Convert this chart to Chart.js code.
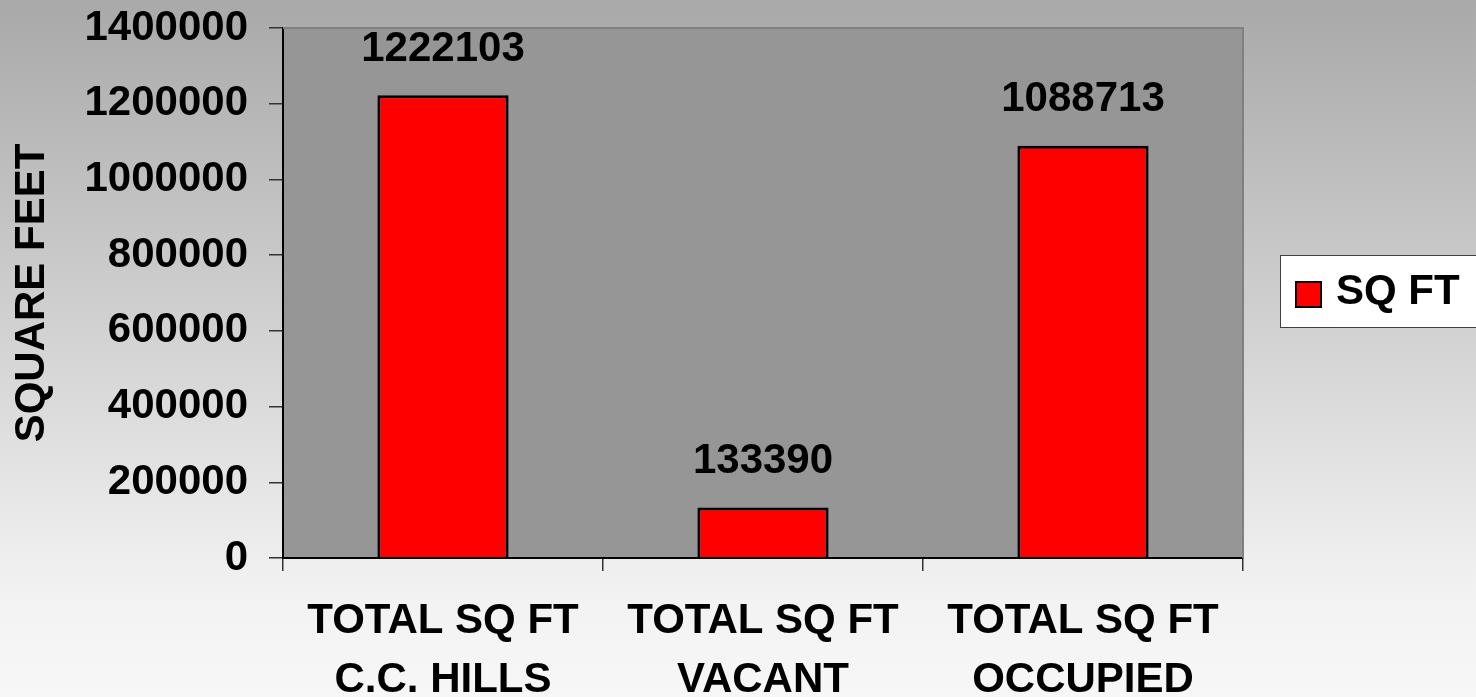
<!DOCTYPE html>
<html>
<head>
<meta charset="utf-8">
<script src="https://cdn.jsdelivr.net/npm/chart.js@4"></script>
<style>
  body { margin: 0; background: #ffffff; }
  canvas { display: block; }
</style>
</head>
<body>
<canvas id="myChart" width="1476" height="697"></canvas>
<script>
// chart data
const categories = [['TOTAL SQ FT', 'C.C. HILLS'], ['TOTAL SQ FT', 'VACANT'], ['TOTAL SQ FT', 'OCCUPIED']];
const sqFt = [1222103, 133390, 1088713];
const seriesName = 'SQ FT';
const yMax = 1400000;
const yStep = 200000;

const FONT = "'Liberation Sans', Arial, sans-serif";

// background gradient + grey plot area
const backdrop = {
  id: 'backdrop',
  beforeDraw(chart) {
    const {ctx, width, height, chartArea: a} = chart;
    ctx.save();
    const g = ctx.createLinearGradient(0, 0, 0, height);
    g.addColorStop(0, '#a9a9a9');
    g.addColorStop(0.85, '#f2f2f2');
    g.addColorStop(1, '#f7f7f7');
    ctx.fillStyle = g;
    ctx.fillRect(0, 0, width, height);
    ctx.fillStyle = '#969696';
    ctx.fillRect(a.left, a.top, a.right - a.left, a.bottom - a.top);
    ctx.restore();
  },
  afterDraw(chart) {
    const {ctx, chartArea: a} = chart;
    ctx.save();
    // top and right edge of plot area
    ctx.strokeStyle = '#808080';
    ctx.lineWidth = 2;
    ctx.beginPath();
    ctx.moveTo(a.left, a.top);
    ctx.lineTo(a.right, a.top);
    ctx.lineTo(a.right, a.bottom);
    ctx.stroke();

    // legend box
    ctx.fillStyle = '#ffffff';
    ctx.fillRect(1280, 255, 220, 72);
    ctx.strokeStyle = '#404040';
    ctx.lineWidth = 1;
    ctx.strokeRect(1280.5, 255.5, 220, 72);
    ctx.fillStyle = '#ff0000';
    ctx.fillRect(1296, 282, 25, 25);
    ctx.strokeStyle = '#000000';
    ctx.lineWidth = 2;
    ctx.strokeRect(1296, 282, 25, 25);
    ctx.fillStyle = '#000000';
    ctx.font = 'bold 42px ' + FONT;
    ctx.textBaseline = 'middle';
    ctx.textAlign = 'left';
    ctx.fillText(seriesName, 1336, 292);
    ctx.restore();
  }
};

// value labels above bars
const valueLabels = {
  id: 'valueLabels',
  afterDatasetsDraw(chart) {
    const {ctx} = chart;
    const meta = chart.getDatasetMeta(0);
    ctx.save();
    ctx.fillStyle = '#000000';
    ctx.font = 'bold 42px ' + FONT;
    ctx.textAlign = 'center';
    ctx.textBaseline = 'middle';
    meta.data.forEach((bar, i) => {
      ctx.fillText(String(sqFt[i]), bar.x, bar.y - 46);
    });
    ctx.restore();
  }
};

const config = {
  type: 'bar',
  data: {
    labels: categories,
    datasets: [{
      label: seriesName,
      data: sqFt,
      backgroundColor: '#ff0000',
      borderColor: '#000000',
      borderWidth: 3,
      categoryPercentage: 1,
      barPercentage: 0.41
    }]
  },
  options: {
    responsive: false,
    animation: false,
    devicePixelRatio: 1,
    layout: { padding: { left: 0, top: 28, right: 233, bottom: 0 } },
    plugins: {
      legend: { display: false },
      tooltip: { enabled: false }
    },
    scales: {
      x: {
        afterFit(scale) { scale.height = 139; },
        grid: { drawOnChartArea: false, tickLength: 13, color: '#333333', lineWidth: 1.5 },
        border: { color: '#000000', width: 2 },
        ticks: {
          color: '#000000',
          padding: 21,
          maxRotation: 0,
          autoSkip: false,
          font: { family: FONT, size: 42, weight: 'bold', lineHeight: 1.4 }
        }
      },
      y: {
        min: 0,
        max: yMax,
        afterFit(scale) { scale.width = 283; scale.paddingTop = 0; scale.paddingBottom = 0; },
        grid: { drawOnChartArea: false, tickLength: 14, color: '#333333', lineWidth: 1.5 },
        border: { color: '#000000', width: 2 },
        ticks: {
          stepSize: yStep,
          color: '#000000',
          padding: 21,
          callback: v => String(v),
          font: { family: FONT, size: 42, weight: 'bold', lineHeight: 0.5 }
        },
        title: {
          display: true,
          text: 'SQUARE FEET',
          color: '#000000',
          padding: { top: 7, bottom: 0 },
          font: { family: FONT, size: 42, weight: 'bold' }
        }
      }
    }
  },
  plugins: [backdrop, valueLabels]
};

let myChart = new Chart(document.getElementById('myChart'), config);
</script>
</body>
</html>
